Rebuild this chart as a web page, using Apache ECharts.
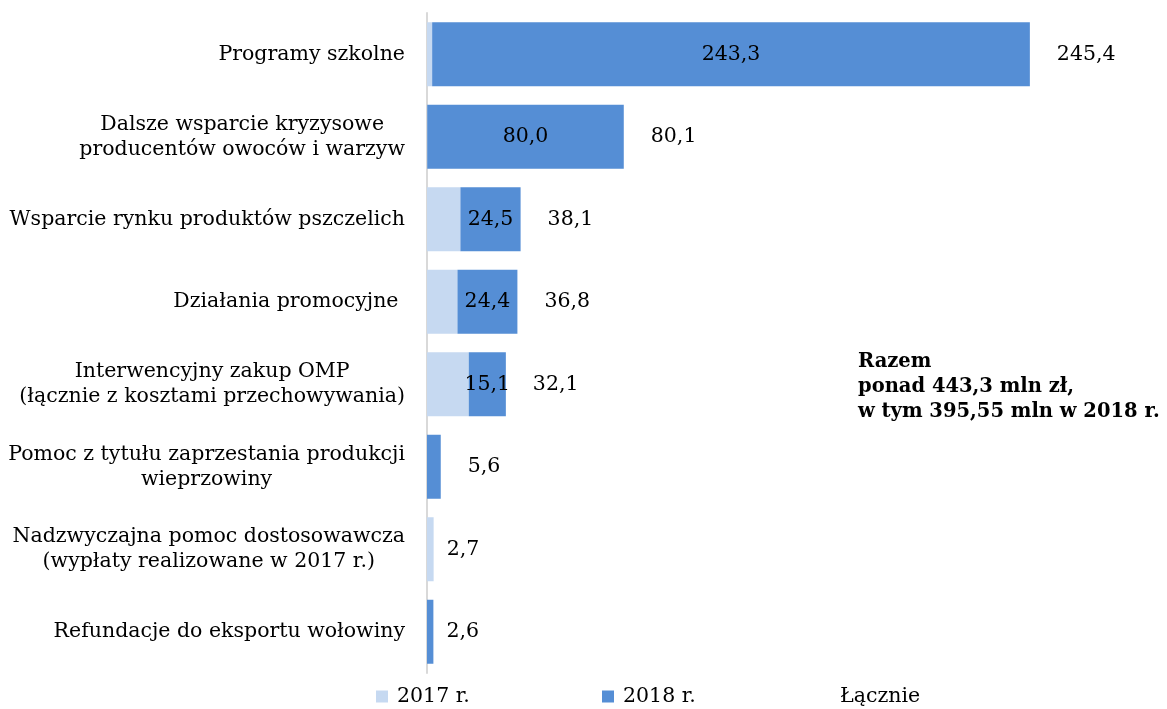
<!DOCTYPE html>
<html>
<head>
<meta charset="utf-8">
<script src="https://cdn.jsdelivr.net/npm/echarts@6/dist/echarts.min.js"></script>
<style>
html,body{margin:0;padding:0;background:#fff;}
#chart{width:1167px;height:709px;}
</style>
</head>
<body>
<div id="chart"></div>
<script>
const categories = [
  'Programy szkolne',
  'Dalsze wsparcie kryzysowe\nproducentów owoców i warzyw',
  'Wsparcie rynku produktów pszczelich',
  'Działania promocyjne ',
  'Interwencyjny zakup OMP\n(łącznie z kosztami przechowywania)',
  'Pomoc z tytułu zaprzestania produkcji\nwieprzowiny',
  'Nadzwyczajna pomoc dostosowawcza\n(wypłaty realizowane w 2017 r.)',
  'Refundacje do eksportu wołowiny'
];
const values2017 = [2.1, 0.1, 13.6, 12.4, 17.0, 0, 2.7, 0];
const values2018 = [243.3, 80.0, 24.5, 24.4, 15.1, 5.6, 0, 2.6];
const totals = [245.4, 80.1, 38.1, 36.8, 32.1, 5.6, 2.7, 2.6];
const seriesNames = ['2017 r.', '2018 r.', 'Łącznie'];
const noteText = 'Razem\nponad 443,3 mln zł,\nw tym 395,55 mln w 2018 r.';

const FONT = 'DejaVu Serif';
const FS = 20.5;
const fmt = v => v.toFixed(1).replace('.', ',');

const chart = echarts.init(document.getElementById('chart'), null, {renderer: 'canvas'});

const legendBase = {
  top: 681,
  itemWidth: 12,
  itemHeight: 12,
  itemGap: 10,
  icon: 'rect',
  textStyle: {fontFamily: FONT, fontSize: FS, color: '#000', padding: [0, 0, 0, 4]}
};

chart.setOption({
  animation: false,
  backgroundColor: '#fff',
  grid: {left: 427, top: 13, width: 737, height: 660, containLabel: false},
  legend: [
    Object.assign({}, legendBase, {left: 371, data: [seriesNames[0]]}),
    Object.assign({}, legendBase, {left: 597, data: [seriesNames[1]]}),
    Object.assign({}, legendBase, {left: 814, data: [seriesNames[2]]})
  ],
  xAxis: {
    type: 'value', min: 0, max: 300, show: false
  },
  yAxis: {
    type: 'category',
    data: categories,
    inverse: true,
    axisLine: {show: true, lineStyle: {color: '#D9D9D9', width: 2}},
    axisTick: {show: false},
    splitLine: {show: false},
    axisLabel: {
      margin: 22,
      formatter: v => v.split('\n').map(l => '{c|' + l + '}').join('\n'),
      rich: {c: {align: 'center', fontFamily: FONT, fontSize: FS, color: '#000', lineHeight: 25}}
    }
  },
  series: [
    {
      name: seriesNames[0], type: 'bar', stack: 'a', barWidth: 64,
      itemStyle: {color: '#C6D9F1'},
      data: values2017
    },
    {
      name: seriesNames[1], type: 'bar', stack: 'a', barWidth: 64,
      itemStyle: {color: '#558ED5'},
      label: {
        show: true, position: 'inside', color: '#000',
        fontFamily: FONT, fontSize: FS,
        formatter: p => (p.value >= 10 ? fmt(p.value) : '')
      },
      data: values2018
    },
    {
      name: seriesNames[2], type: 'bar', stack: 'a', barWidth: 64,
      itemStyle: {color: 'rgba(255,255,255,0)'},
      label: {
        show: true, position: 'right', color: '#000',
        fontFamily: FONT, fontSize: FS,
        formatter: p => fmt(totals[p.dataIndex])
      },
      data: totals.map(t => ({value: 0, label: {distance: t < 5 ? 13 : 27}}))
    }
  ],
  graphic: [{
    type: 'text', left: 858, top: 349,
    style: {text: noteText, fontFamily: FONT, fontWeight: 'bold', fontSize: 19.5, lineHeight: 25, fill: '#000'}
  }]
});
</script>
</body>
</html>
